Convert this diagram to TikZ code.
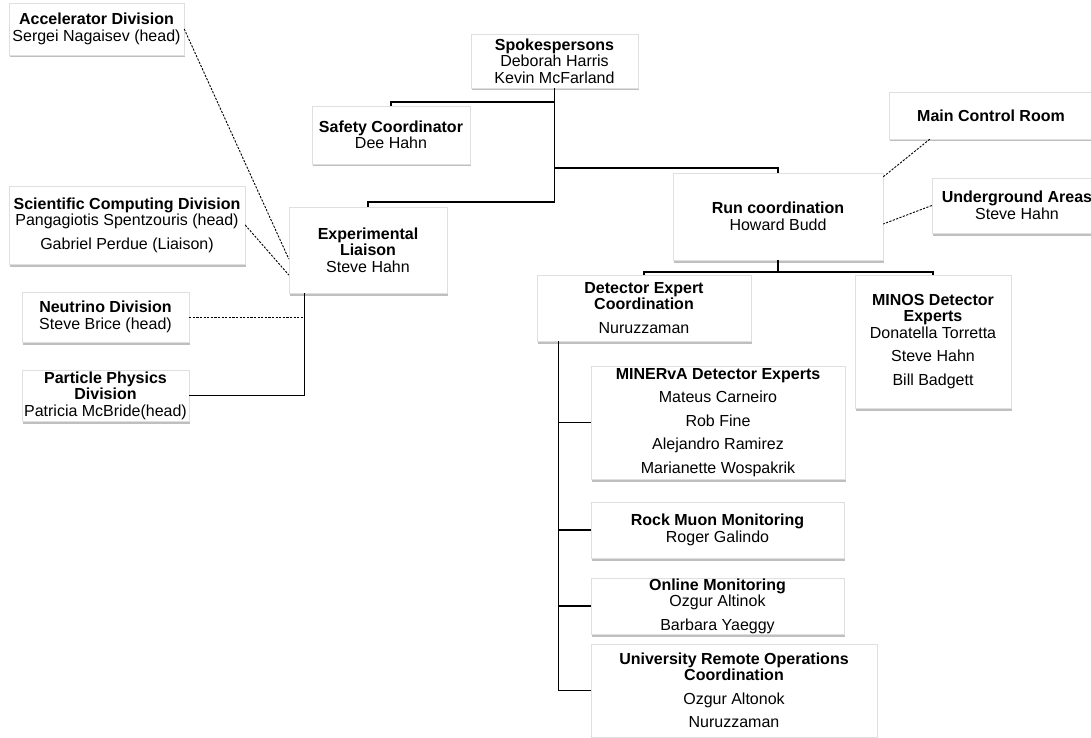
\documentclass[tikz,border=0pt]{standalone}
\usepackage{fontspec}
\setmainfont{Liberation Sans}
\usetikzlibrary{shadows}

\tikzset{
  unit/.style={rectangle, draw=gray!25, fill=white, inner sep=0pt, align=center,
    font=\fontsize{16}{16.5}\selectfont,
    drop shadow={shadow xshift=1pt, shadow yshift=-2.5pt, opacity=0.5, fill=gray}},
  link/.style={line width=1.1pt},
  loose/.style={line width=0.9pt, dash pattern=on 2.2pt off 1.4pt},
}
\newcommand{\gap}{\\[7pt]}

\begin{document}
\begin{tikzpicture}[x=1pt, y=-1pt]
    \useasboundingbox (0,0) rectangle (1091,738);

    % left column
    \node[unit, minimum width=175pt, minimum height=52pt] (acc) at (96.5,29) {\textbf{Accelerator Division}\\Sergei Nagaisev (head)};
    \node[unit, minimum width=236pt, minimum height=78pt] (sci) at (127,225) {\textbf{Scientific Computing Division}\\Pangagiotis Spentzouris (head)\gap Gabriel Perdue (Liaison)};
    \node[unit, minimum width=167pt, minimum height=50pt] (neu) at (105.5,317) {\textbf{Neutrino Division}\\Steve Brice (head)};
    \node[unit, minimum width=167pt, minimum height=51pt] (part) at (105.5,395.5) {\textbf{Particle Physics}\\\textbf{Division}\\Patricia McBride(head)};

    % top
    \node[unit, minimum width=167pt, minimum height=54pt] (spokes) at (554.5,61) {\textbf{Spokespersons}\\Deborah Harris\\Kevin McFarland};
    \node[unit, minimum width=158pt, minimum height=58pt] (safety) at (391,135) {\textbf{Safety Coordinator}\\Dee Hahn};
    \node[unit, minimum width=158pt, minimum height=86pt] (exp) at (368,250) {\textbf{Experimental}\\\textbf{Liaison}\\Steve Hahn};
    \node[unit, minimum width=210pt, minimum height=87pt] (run) at (778,216.5) {\textbf{Run coordination}\\Howard Budd};
    \node[unit, minimum width=204pt, minimum height=47pt] (mcr) at (991,115.5) {\textbf{Main Control Room}};
    \node[unit, minimum width=170pt, minimum height=55pt] (ug) at (1017,205.5) {\textbf{Underground Areas}\\Steve Hahn};

    % detector experts
    \node[unit, minimum width=214pt, minimum height=66pt] (det) at (644,308) {\textbf{Detector Expert}\\\textbf{Coordination}\gap Nuruzzaman};
    \node[unit, minimum width=156pt, minimum height=133pt] (minos) at (933,341.5) {\textbf{MINOS Detector}\\\textbf{Experts}\\Donatella Torretta\gap Steve Hahn\gap Bill Badgett};
    \node[unit, minimum width=254pt, minimum height=113pt] (minerva) at (718,422.5) {\textbf{MINERvA Detector Experts}\gap Mateus Carneiro\gap Rob Fine\gap Alejandro Ramirez\gap Marianette Wospakrik};
    \node[unit, minimum width=253pt, minimum height=56pt] (rock) at (717.5,530) {\textbf{Rock Muon Monitoring}\\Roger Galindo};
    \node[unit, minimum width=253pt, minimum height=56pt] (online) at (717.5,606) {\textbf{Online Monitoring}\\Ozgur Altinok\gap Barbara Yaeggy};
    \node[unit, minimum width=286pt, minimum height=93pt] (univ) at (734,690.5) {\textbf{University Remote Operations}\\\textbf{Coordination}\gap Ozgur Altonok\gap Nuruzzaman};

    \coordinate (expfoot) at ([xshift=16pt]exp.south west);
    \coordinate (detfoot) at ([xshift=22pt]det.south west);

    \draw[link] (spokes.south) -- (spokes.south |- 0,202) -| (exp.north);
    \draw[link] (spokes.south |- 0,102) -| (safety.north);
    \draw[link] (spokes.south |- 0,168) -| (run.north);
    \draw[link] (run.south) -- (run.south |- 0,272);
    \draw[link] (det.north) |- (minos.north |- 0,272) -- (minos.north);

    \draw[link] (detfoot) |- (univ.west);
    \draw[link] (detfoot |- minerva.west) -- (minerva.west);
    \draw[link] (detfoot |- rock.west) -- (rock.west);
    \draw[link] (detfoot |- online.west) -- (online.west);

    \draw[link] (expfoot) |- (part.east);
    \draw[loose] (neu.east) -- (neu.east -| expfoot);
    \draw[loose] (acc.east) -- ([yshift=-9pt]exp.west);
    \draw[loose] (sci.east) -- ([yshift=-25pt]exp.west);
    \draw[loose] ([xshift=41pt]mcr.south west) -- ([yshift=-4pt]run.north east);
    \draw[loose] (ug.west) -- ([yshift=-7.5pt]run.east);
\end{tikzpicture}
\end{document}
